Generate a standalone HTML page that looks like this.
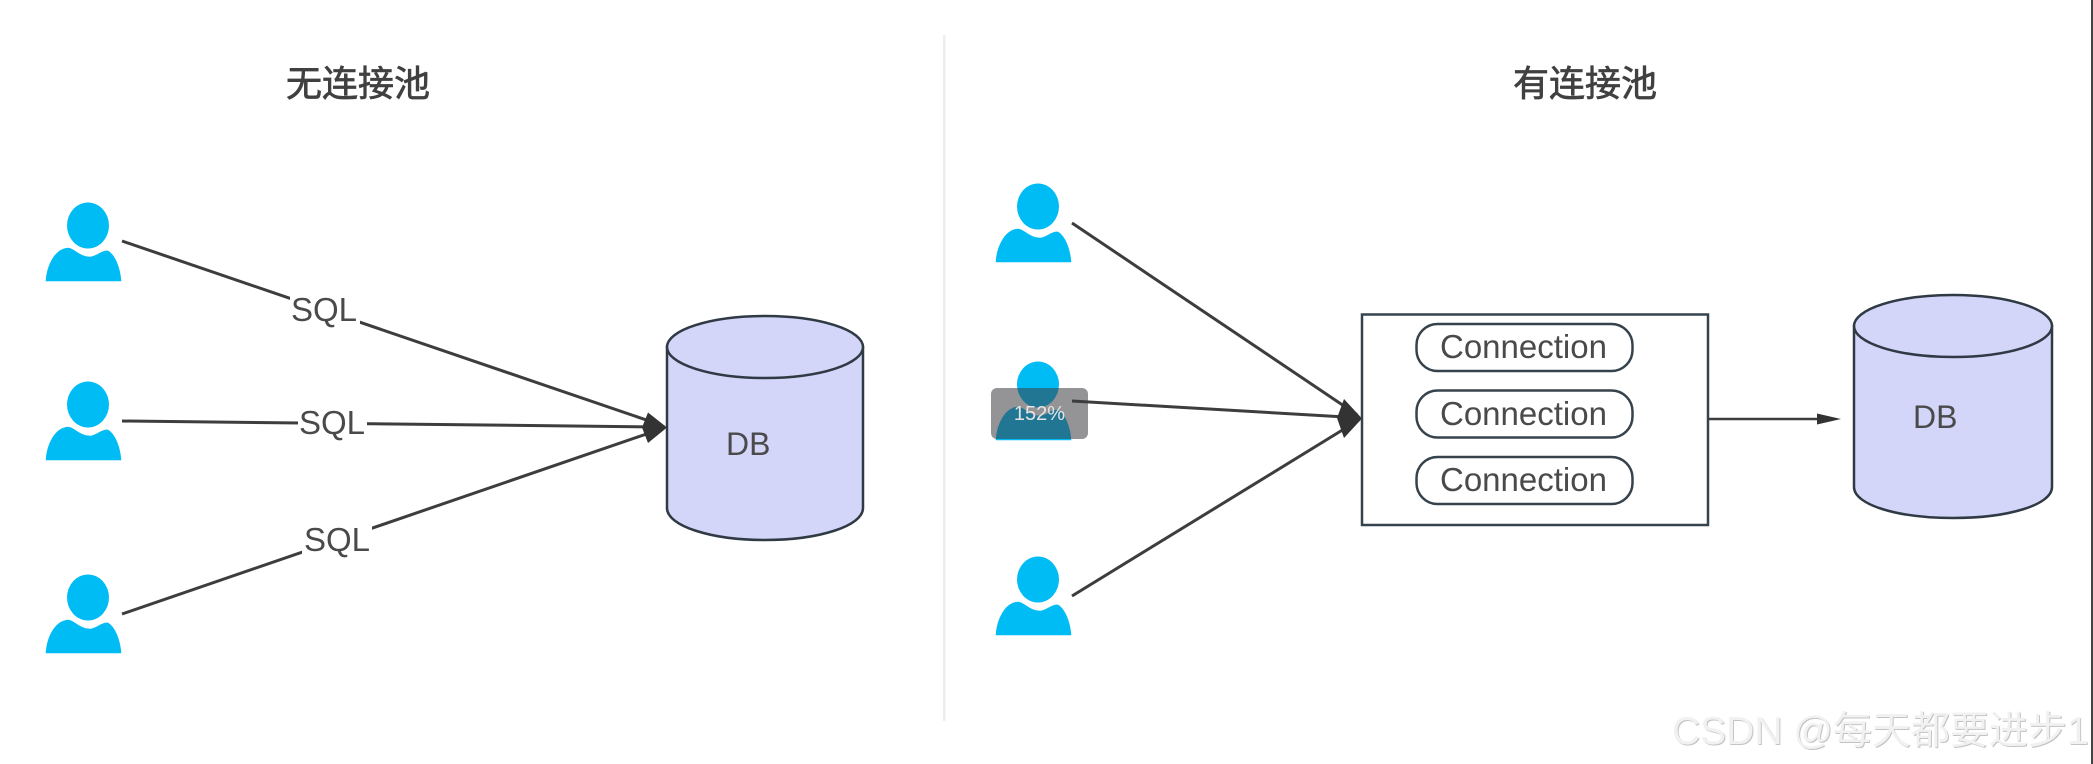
<!DOCTYPE html>
<html>
<head>
<meta charset="utf-8">
<style>
html,body{margin:0;padding:0;background:#fff;width:2093px;height:764px;overflow:hidden}
svg{display:block;position:absolute;left:0;top:0}
text{font-family:"Liberation Sans","Noto Sans CJK SC",sans-serif}
.l{font-size:33px;fill:#4a4a4a}
.t{font-size:36px;font-weight:400;fill:#404040;stroke:#404040;stroke-width:0.7px}
</style>
</head>
<body>
<svg width="2093" height="764" viewBox="0 0 2093 764" xmlns="http://www.w3.org/2000/svg">
<defs>
<marker id="small" markerUnits="userSpaceOnUse" markerWidth="28" markerHeight="14" refX="20" refY="7" orient="auto">
<path d="M2 1.5 L26 7 L2 12.5 Z" fill="#333"/>
</marker>
<g id="p">
<ellipse cx="42" cy="22.5" rx="21" ry="23" fill="#00bcf5"/>
<path d="M0 78 C1 62 9 46 22 45 C28 45 33 54 44 54 C50 54 56 47 62 48 C69 52 74 65 75 78 Z" fill="#00bcf5" stroke="#00bcf5" stroke-width="0.6"/>
</g>
</defs>

<rect x="0" y="0" width="2093" height="764" fill="#fff"/>
<rect x="943" y="35" width="2.5" height="686" fill="#eeeeee"/>
<rect x="2091" y="0" width="2" height="764" fill="#454545"/>

<text class="t" x="286" y="96">无连接池</text>
<text class="t" x="1513" y="96">有连接池</text>

<!-- left persons -->
<use href="#p" x="46" y="203"/>
<use href="#p" x="46" y="382"/>
<use href="#p" x="46" y="575"/>

<!-- left cylinder -->
<path d="M667 347 V508 C667 526 711 540 765 540 C819 540 863 526 863 508 V347 Z" fill="#d3d6f9" stroke="#2f3a44" stroke-width="2.5"/>
<ellipse cx="765" cy="347" rx="98" ry="31" fill="#d3d6f9" stroke="#2f3a44" stroke-width="2.5"/>
<text class="l" x="726" y="455" style="font-size:32px">DB</text>

<!-- left lines -->
<line x1="122" y1="241" x2="661.3" y2="425.1" stroke="#3d3d3d" stroke-width="3"/>
<line x1="122" y1="421" x2="661" y2="427" stroke="#3d3d3d" stroke-width="3"/>
<line x1="122" y1="614" x2="661.3" y2="428.9" stroke="#3d3d3d" stroke-width="3"/>
<polygon points="667,427.5 648,412.5 642,427.5 648,443" fill="#333"/>
<rect x="290" y="290" width="70" height="36" fill="#fff"/>
<rect x="298" y="404" width="69" height="36" fill="#fff"/>
<rect x="302" y="521" width="70" height="36" fill="#fff"/>
<text class="l" x="291" y="321">SQL</text>
<text class="l" x="299" y="434">SQL</text>
<text class="l" x="304" y="551">SQL</text>

<!-- right persons -->
<use href="#p" x="996" y="184"/>
<use href="#p" x="996" y="362"/>
<use href="#p" x="996" y="557"/>

<!-- right lines -->
<line x1="1072" y1="223" x2="1357" y2="414.7" stroke="#3d3d3d" stroke-width="3"/>
<line x1="1072" y1="401" x2="1356" y2="417.6" stroke="#3d3d3d" stroke-width="3"/>
<line x1="1072" y1="596" x2="1356.9" y2="421.1" stroke="#3d3d3d" stroke-width="3"/>
<polygon points="1362,418.5 1344,399 1337,418 1344,438" fill="#333"/>

<!-- badge -->
<rect x="991" y="388" width="97" height="51" rx="6" fill="#3c3c41" fill-opacity="0.55"/>
<text x="1039.5" y="420" text-anchor="middle" style="font-size:20px" fill="#e4e4e4">152%</text>

<!-- pool box -->
<rect x="1362" y="314.5" width="346" height="210.5" fill="#fff" stroke="#37434c" stroke-width="2.5"/>
<rect x="1416.5" y="324" width="216" height="47" rx="21" fill="#fff" stroke="#37434c" stroke-width="2.5"/>
<rect x="1416.5" y="390.5" width="216" height="47" rx="21" fill="#fff" stroke="#37434c" stroke-width="2.5"/>
<rect x="1416.5" y="457" width="216" height="47" rx="21" fill="#fff" stroke="#37434c" stroke-width="2.5"/>
<text class="l" x="1440" y="358">Connection</text>
<text class="l" x="1440" y="425">Connection</text>
<text class="l" x="1440" y="491">Connection</text>

<line x1="1708" y1="419" x2="1835" y2="419" stroke="#3d3d3d" stroke-width="2.5" marker-end="url(#small)"/>

<!-- right cylinder -->
<path d="M1854 326 V487 C1854 505 1898 518 1953 518 C2008 518 2052 505 2052 487 V326 Z" fill="#d3d6f9" stroke="#2f3a44" stroke-width="2.5"/>
<ellipse cx="1953" cy="326" rx="99" ry="31" fill="#d3d6f9" stroke="#2f3a44" stroke-width="2.5"/>
<text class="l" x="1913" y="428" style="font-size:32px">DB</text>

<!-- watermark -->
<text x="1672" y="744" style="font-size:39px" fill="#c4c4c4" transform="translate(1 1)">CSDN @每天都要进步1</text>
<text x="1672" y="744" style="font-size:39px" fill="#f1f1f1">CSDN @每天都要进步1</text>
</svg>
</body>
</html>
